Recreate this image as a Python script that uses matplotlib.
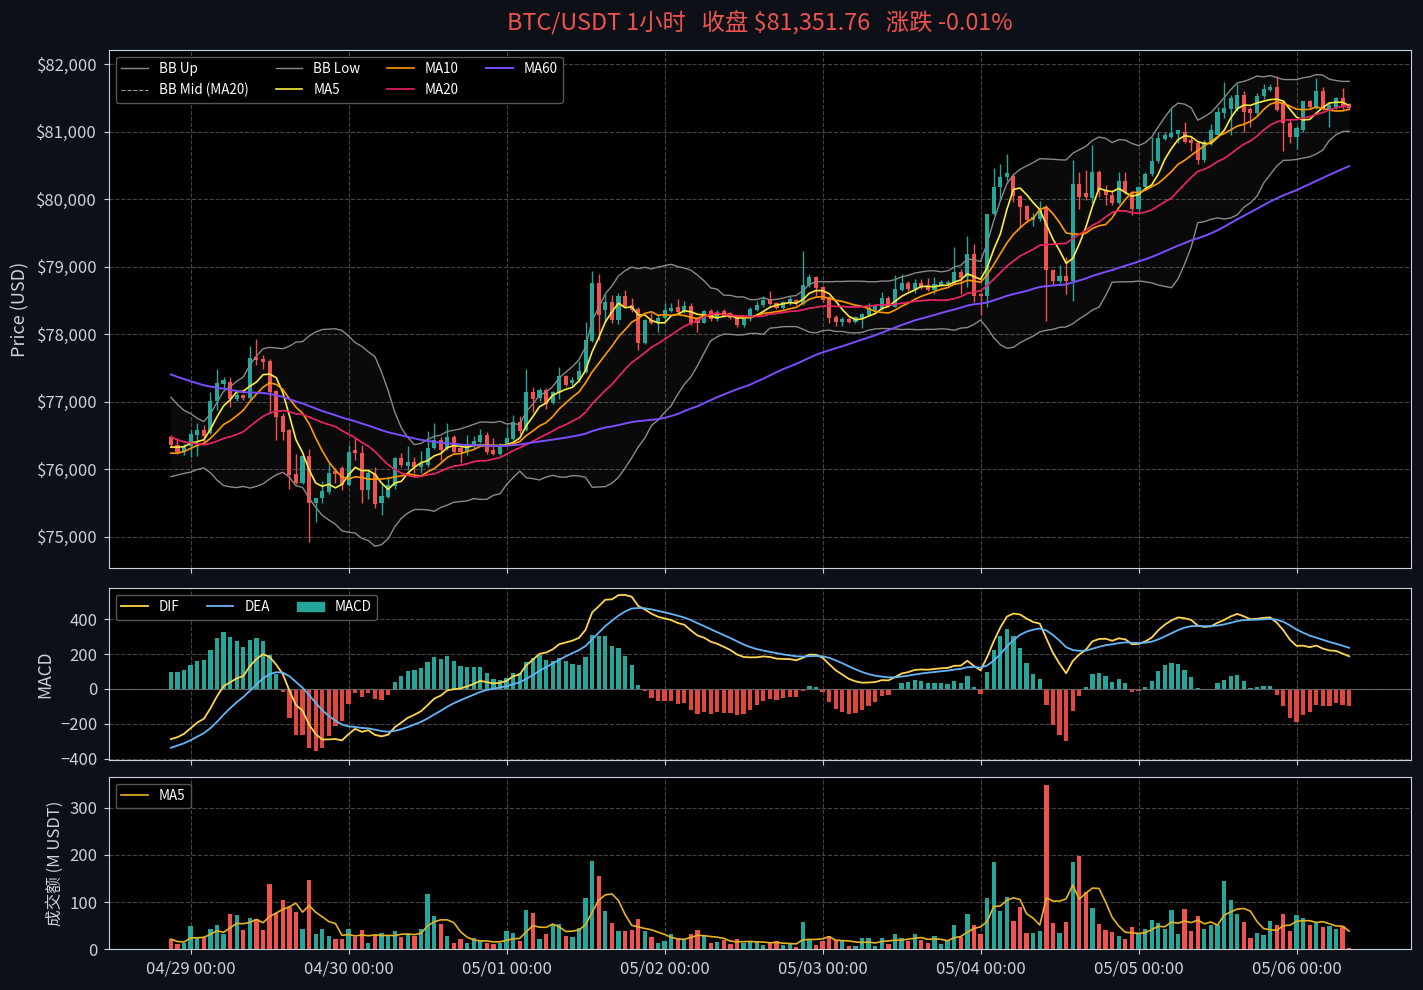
import numpy as np
import pandas as pd
import matplotlib
matplotlib.use('Agg')
import matplotlib.pyplot as plt
from matplotlib.patches import Patch

plt.rcParams['font.family'] = ['Noto Sans CJK SC', 'DejaVu Sans']

# hourly candles, first one is 04/28 21:00
start_time = '2026-04-28 21:00'

# closes before the visible window (only used to warm up the indicators)
prev_close = [
    78350, 78300, 78450, 78400, 78250, 78200, 78300, 78150, 78100, 78200,
    78000, 77900, 77800, 77850, 77950, 78050, 78000, 77900, 77950, 77850,
    77800, 77900, 77850, 77750, 77800, 77900, 77950, 77850, 77700, 77750,
    77550, 77600, 77650, 77550, 77450, 77500, 77400, 77350, 77300, 77150,
    77100, 76950, 76800, 76900, 76750, 76600, 76650, 76500, 76550, 76400,
    76250, 76100, 76050, 76150, 76200, 76260, 76300, 76250, 76480,
]

opens = [
    76480, 76360, 76250, 76340, 76510, 76580, 76540, 77010, 77260, 77290,
    77040, 77100, 77060, 77660, 77630, 77600, 77160, 76790, 76580, 75930,
    75800, 76200, 75500, 75570, 75670, 75980, 76020, 75770, 76290, 76240,
    75700, 75930, 75500, 75590, 75760, 76170, 76050, 76110, 76040, 76070,
    76320, 76430, 76320, 76480, 76320, 76250, 76350, 76410, 76510, 76290,
    76230, 76350, 76450, 76700, 76580, 77150, 77060, 77180, 76980, 77130,
    77380, 77280, 77320, 77440, 77900, 78760, 78360, 78480, 78210, 78570,
    78430, 78370, 77870, 78210, 78170, 78240, 78340, 78400, 78340, 78420,
    78240, 78170, 78340, 78220, 78340, 78310, 78260, 78140, 78220, 78360,
    78430, 78520, 78460, 78390, 78460, 78510, 78450, 78730, 78850, 78700,
    78550, 78260, 78180, 78230, 78180, 78240, 78290, 78360, 78390, 78540,
    78410, 78660, 78760, 78670, 78760, 78730, 78660, 78730, 78740, 78760,
    78920, 78850, 79190, 78600, 78560, 79780, 80180, 80330, 80340, 80050,
    79900, 79690, 79710, 79870, 78950, 78790, 78860, 78790, 80220, 80090,
    80020, 80400, 80140, 80060, 79940, 80270, 80090, 79850, 80180, 80370,
    80560, 80890, 80920, 80960, 80990, 80870, 80830, 80580, 80830, 80950,
    81270, 81330, 81330, 81540, 81330, 81270, 81530, 81620, 81660, 81420,
    81130, 80920, 81020, 81450, 81360, 81600, 81330, 81350, 81500, 81410,
]

highs = [
    76510, 76460, 76370, 76580, 76690, 76650, 77150, 77490, 77370, 77370,
    77140, 77120, 77830, 77930, 77700, 77640, 77180, 76830, 76600, 76230,
    76200, 76300, 75580, 75830, 76100, 76020, 76050, 76360, 76480, 76360,
    76000, 76040, 75780, 75880, 76190, 76240, 76350, 76180, 76270, 76570,
    76690, 76480, 76680, 76510, 76370, 76510, 76490, 76600, 76560, 76470,
    76390, 76620, 76810, 76790, 77490, 77220, 77210, 77210, 77160, 77520,
    77400, 77370, 77600, 78180, 78940, 78900, 78600, 78580, 78610, 78650,
    78540, 78410, 78230, 78310, 78280, 78460, 78460, 78530, 78500, 78460,
    78260, 78360, 78370, 78360, 78370, 78330, 78280, 78270, 78410, 78500,
    78560, 78640, 78480, 78500, 78560, 78530, 79230, 78900, 78860, 78720,
    78560, 78280, 78260, 78250, 78270, 78310, 78470, 78450, 78620, 78560,
    78880, 78900, 78790, 78820, 78820, 78830, 78850, 78800, 78800, 79300,
    78960, 79450, 79330, 78620, 79780, 80460, 80520, 80670, 80380, 80060,
    79910, 79790, 79970, 79920, 78960, 79020, 79140, 80580, 80400, 80440,
    80800, 80430, 80210, 80140, 80400, 80410, 80110, 80200, 80400, 80920,
    81000, 81000, 81350, 81030, 81150, 80920, 80850, 80870, 81120, 81360,
    81730, 81540, 81710, 81610, 81370, 81580, 81710, 81700, 81820, 81450,
    81180, 81080, 81460, 81470, 81790, 81660, 81420, 81520, 81650, 81420,
]

lows = [
    76330, 76230, 76220, 76190, 76200, 76390, 76520, 76880, 77200, 76930,
    77010, 77030, 77030, 77540, 77480, 76850, 76440, 76440, 75710, 75780,
    75780, 74920, 75220, 75500, 75640, 75800, 75700, 75750, 76140, 75500,
    75560, 75430, 75330, 75580, 75710, 76030, 75990, 75940, 75940, 76040,
    76300, 76130, 76290, 76240, 76100, 76220, 76320, 76390, 76230, 76220,
    76220, 76340, 76440, 76530, 76570, 76850, 77010, 76890, 76970, 77040,
    77230, 77230, 77300, 77430, 77880, 77920, 78200, 78170, 78150, 78400,
    78330, 77770, 77860, 78150, 78040, 78220, 78330, 78310, 78310, 78140,
    78040, 78160, 78190, 78200, 78250, 78220, 78110, 78110, 78200, 78340,
    78410, 78430, 78370, 78370, 78440, 78440, 78440, 78700, 78570, 78480,
    78160, 78120, 78120, 78160, 78160, 78100, 78270, 78340, 78360, 78400,
    78400, 78640, 78640, 78610, 78670, 78640, 78590, 78720, 78730, 78740,
    78600, 78700, 78480, 78290, 78400, 79760, 80000, 80270, 79960, 79570,
    79670, 79610, 79680, 78200, 78730, 78760, 78600, 78500, 79850, 79990,
    79950, 80030, 79910, 79920, 79930, 80080, 79770, 79820, 80170, 80350,
    80540, 80870, 80900, 80830, 80830, 80720, 80520, 80550, 80800, 80950,
    81200, 80950, 81310, 81000, 81070, 81250, 81490, 81600, 81310, 80720,
    80830, 80740, 80990, 81340, 81340, 81320, 81070, 81330, 81330, 81340,
]

closes = [
    76360, 76250, 76340, 76520, 76580, 76500, 77010, 77280, 77320, 77040,
    77100, 77050, 77650, 77620, 77590, 77150, 76780, 76550, 75920, 75800,
    76200, 75500, 75570, 75680, 75950, 75930, 75770, 76260, 76240, 75700,
    75950, 75490, 75610, 75770, 76170, 76070, 76110, 76040, 76100, 76320,
    76430, 76280, 76480, 76260, 76250, 76360, 76420, 76510, 76250, 76230,
    76360, 76460, 76700, 76570, 77150, 77040, 77180, 76970, 77150, 77380,
    77250, 77320, 77460, 77920, 78760, 78290, 78480, 78210, 78570, 78420,
    78360, 77870, 78210, 78170, 78240, 78360, 78390, 78330, 78420, 78170,
    78170, 78340, 78220, 78330, 78270, 78240, 78140, 78240, 78370, 78430,
    78510, 78450, 78390, 78480, 78520, 78460, 78730, 78850, 78680, 78510,
    78240, 78180, 78230, 78180, 78250, 78300, 78390, 78420, 78540, 78420,
    78670, 78760, 78670, 78760, 78690, 78660, 78740, 78770, 78770, 78920,
    78830, 79190, 78570, 78560, 79780, 80180, 80330, 80390, 80050, 79880,
    79690, 79740, 79870, 78950, 78790, 78860, 78790, 80220, 80030, 80030,
    80400, 80130, 80060, 79940, 80270, 80100, 79850, 80180, 80370, 80560,
    80900, 80950, 80980, 81020, 80850, 80830, 80580, 80850, 81020, 81290,
    81350, 81500, 81540, 81290, 81270, 81530, 81630, 81660, 81320, 81130,
    80920, 81050, 81450, 81360, 81600, 81330, 81390, 81500, 81360, 81351.76,
]

# turnover in million USDT
volumes = [
    21, 11, 13, 49, 26, 25, 43, 51, 32, 74,
    72, 40, 65, 63, 40, 138, 77, 104, 90, 79,
    42, 147, 33, 42, 28, 21, 21, 42, 26, 40,
    12, 30, 35, 28, 38, 26, 33, 28, 42, 117,
    70, 53, 28, 12, 21, 12, 23, 18, 12, 11,
    13, 38, 35, 16, 83, 77, 21, 33, 51, 53,
    28, 25, 45, 108, 187, 155, 81, 55, 38, 38,
    40, 64, 38, 25, 12, 17, 32, 21, 21, 32,
    40, 28, 12, 14, 19, 11, 21, 13, 17, 14,
    9, 13, 17, 9, 11, 4, 57, 21, 9, 17,
    28, 19, 16, 6, 6, 23, 23, 6, 23, 11,
    32, 23, 16, 32, 19, 13, 28, 11, 17, 51,
    26, 74, 51, 33, 108, 185, 81, 111, 60, 89,
    34, 34, 38, 349, 55, 34, 57, 185, 198, 121,
    87, 53, 40, 36, 28, 21, 47, 34, 43, 62,
    55, 43, 83, 32, 85, 38, 70, 43, 51, 51,
    145, 104, 74, 57, 23, 34, 30, 60, 51, 74,
    38, 72, 66, 51, 55, 47, 49, 43, 49, 2,
]

# colours
BG = '#0d1117'
AX_BG = '#000000'
FG = '#c9d1d9'
GRID = '#444444'
UP = '#26a69a'
DOWN = '#ef5350'

n = len(closes)
x = np.arange(n)
times = pd.date_range(start_time, periods=n, freq='h')
o = np.array(opens, dtype=float)
h = np.array(highs, dtype=float)
l = np.array(lows, dtype=float)
c = np.array(closes, dtype=float)
v = np.array(volumes, dtype=float)

# indicators on the full close history
full = pd.Series(list(prev_close) + list(closes), dtype=float)
k = len(prev_close)
ma5 = full.rolling(5).mean().values[k:]
ma10 = full.rolling(10).mean().values[k:]
ma20 = full.rolling(20).mean().values[k:]
ma60 = full.rolling(60).mean().values[k:]
std20 = full.rolling(20).std(ddof=0).values[k:]
bb_up = ma20 + 2 * std20
bb_low = ma20 - 2 * std20
ema12 = full.ewm(span=12, adjust=False).mean()
ema26 = full.ewm(span=26, adjust=False).mean()
dif_full = ema12 - ema26
dea_full = dif_full.ewm(span=9, adjust=False).mean()
dif = dif_full.values[k:]
dea = dea_full.values[k:]
hist = 2 * (dif - dea)
vol_ma5 = pd.Series(v).rolling(5, min_periods=1).mean().values

up = c >= o
colors = np.where(up, UP, DOWN)

fig = plt.figure(figsize=(14.23, 9.9), dpi=100, facecolor=BG)
left, width = 0.0766, 0.915
ax1 = fig.add_axes([left, 0.4263, width, 0.5232])
ax2 = fig.add_axes([left, 0.2323, width, 0.1737], sharex=ax1)
ax3 = fig.add_axes([left, 0.0414, width, 0.1738], sharex=ax1)

for ax in (ax1, ax2, ax3):
    ax.set_facecolor(AX_BG)
    ax.grid(True, ls='--', color=GRID, lw=0.8)
    ax.set_axisbelow(True)
    for s in ax.spines.values():
        s.set_color(FG)
    ax.tick_params(colors=FG, labelsize=12, pad=5)

leg_kw = dict(fontsize=9.7, facecolor=AX_BG, edgecolor='#555555',
              labelcolor='white', framealpha=1)

# --- price panel
ax1.fill_between(x, bb_low, bb_up, color='#ffffff', alpha=0.045, lw=0)
ax1.plot(x, bb_up, color='#8a8a8a', lw=1, label='BB Up')
ax1.plot(x, ma20, color='#9a9a9a', lw=0.8, ls='--', label='BB Mid (MA20)')
ax1.plot(x, bb_low, color='#8a8a8a', lw=1, label='BB Low')
ax1.vlines(x, l, h, color=colors, lw=1)
body_low = np.minimum(o, c)
body_h = np.maximum(np.abs(c - o), 8)
ax1.bar(x, body_h, bottom=body_low, width=0.62, color=colors, lw=0)
ax1.plot(x, ma5, color='#ffeb3b', lw=1.2, label='MA5')
ax1.plot(x, ma10, color='#ff9800', lw=1.2, label='MA10')
ax1.plot(x, ma20, color='#e91e63', lw=1.2, label='MA20')
ax1.plot(x, ma60, color='#7c4dff', lw=1.4, label='MA60')
ax1.set_ylim(74540, 82210)
ax1.set_yticks(np.arange(75000, 82001, 1000))
ax1.yaxis.set_major_formatter(plt.FuncFormatter(lambda val, pos: f'${val:,.0f}'))
ax1.set_ylabel('Price (USD)', color=FG, fontsize=13, labelpad=5)
ax1.legend(loc='upper left', ncol=4, **leg_kw)

chg = (c[-1] / c[-2] - 1) * 100
ax1.set_title(f'BTC/USDT 1小时   收盘 ${c[-1]:,.2f}   涨跌 {chg:+.2f}%',
              color=DOWN if chg < 0 else UP, fontsize=16.8, pad=14)

# --- MACD panel
ax2.bar(x, hist, width=0.65, color=np.where(hist >= 0, UP, '#e0483f'), lw=0)
ax2.axhline(0, color='#666666', lw=0.8)
ax2.plot(x, dif, color='#ffd54f', lw=1.3, label='DIF')
ax2.plot(x, dea, color='#64b5f6', lw=1.3, label='DEA')
ax2.set_ylim(-406, 577)
ax2.set_yticks([-400, -200, 0, 200, 400])
ax2.set_ylabel('MACD', color=FG, fontsize=12.5)
handles, labels = ax2.get_legend_handles_labels()
handles.append(Patch(color=UP))
labels.append('MACD')
ax2.legend(handles, labels, loc='upper left', ncol=3, **leg_kw)

# --- volume panel
ax3.bar(x, v, width=0.65, color=colors, lw=0)
ax3.plot(x, vol_ma5, color='#e6b422', lw=1.2, label='MA5')
ax3.set_ylim(0, 366)
ax3.set_yticks([0, 100, 200, 300])
ax3.set_ylabel('成交额 (M USDT)', color=FG, fontsize=12)
ax3.legend(loc='upper left', **leg_kw)

tick_idx = [i for i, t in enumerate(times) if t.hour == 0]
ax3.set_xticks(tick_idx)
ax3.set_xticklabels([times[i].strftime('%m/%d %H:%M') for i in tick_idx])
ax3.set_xlim(-9.4, n - 1 + 9.4)
plt.setp(ax1.get_xticklabels(), visible=False)
plt.setp(ax2.get_xticklabels(), visible=False)

fig.savefig('out.png', dpi=100, facecolor=BG)
